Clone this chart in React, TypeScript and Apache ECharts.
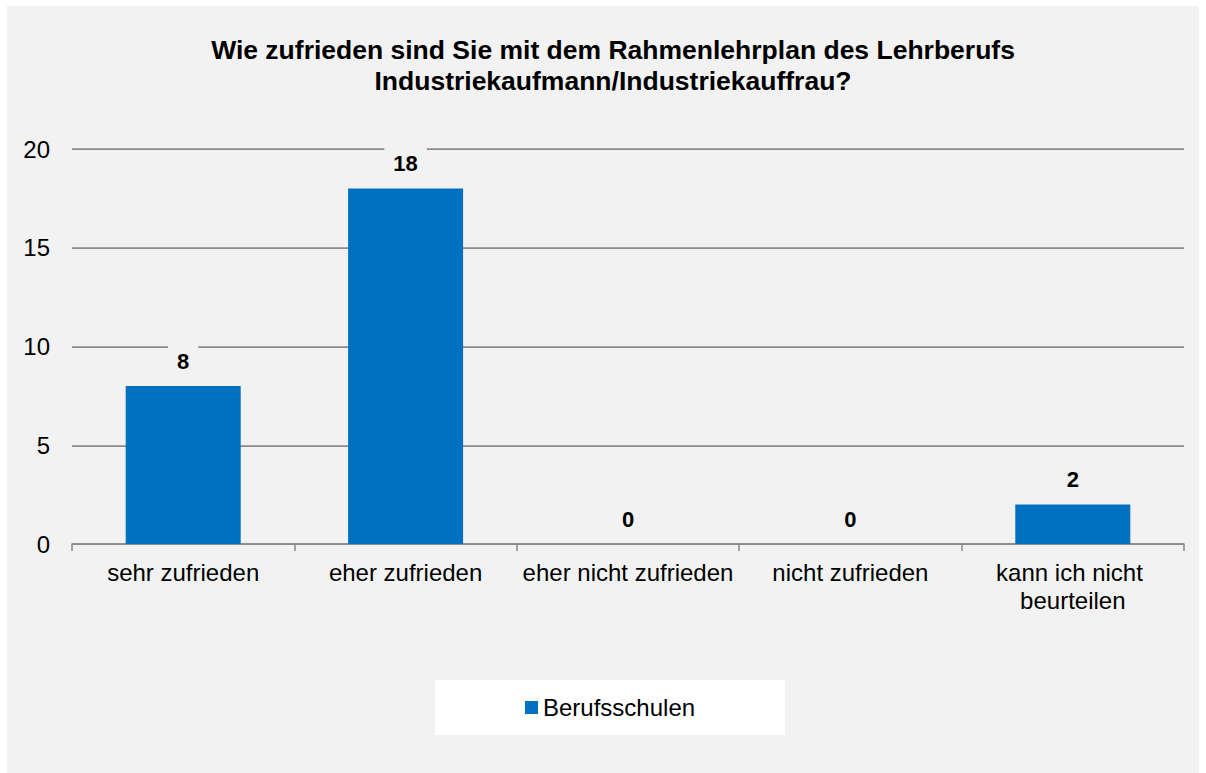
import React, { useEffect, useRef } from "react";
import * as echarts from "echarts";

const titleLines = [
  "Wie zufrieden sind Sie mit dem Rahmenlehrplan des Lehrberufs",
  "Industriekaufmann/Industriekauffrau?",
];
const categories = [
  "sehr zufrieden",
  "eher zufrieden",
  "eher nicht zufrieden",
  "nicht zufrieden",
  "kann ich nicht beurteilen",
];
const seriesName = "Berufsschulen";
const values = [8, 18, 0, 0, 2];
const yMin = 0;
const yMax = 20;
const yInterval = 5;

const FONT = "'Liberation Sans', Arial, Helvetica, sans-serif";
const GRID_COLOR = "#8a8a8a";
const BG = "#f2f2f2";

export default function App() {
  const ref = useRef<HTMLDivElement>(null);

  useEffect(() => {
    if (!ref.current) return;
    const chart = echarts.init(ref.current, null, { renderer: "svg" });
    chart.setOption({
      animation: false,
      backgroundColor: "#ffffff",
      textStyle: { fontFamily: FONT },
      graphic: [
        {
          type: "rect",
          z: -100,
          silent: true,
          shape: { x: 7, y: 6, width: 1192, height: 767 },
          style: { fill: BG },
        },
      ],
      title: {
        text: titleLines.join("\n"),
        left: 613,
        top: 34,
        padding: 0,
        textAlign: "center",
        textStyle: {
          fontFamily: FONT,
          fontSize: 26.5,
          fontWeight: "bold",
          color: "#000000",
          lineHeight: 31,
        },
      },
      legend: {
        data: [seriesName],
        left: 435,
        top: 680,
        padding: [15, 90],
        backgroundColor: "#ffffff",
        icon: "rect",
        itemWidth: 13,
        itemHeight: 13,
        textStyle: {
          fontFamily: FONT,
          fontSize: 24,
          color: "#000000",
          lineHeight: 25,
        },
      },
      grid: {
        left: 72,
        right: 22,
        top: 149,
        bottom: 229,
        containLabel: false,
      },
      xAxis: {
        type: "category",
        data: categories,
        axisLine: { show: true, lineStyle: { color: GRID_COLOR, width: 1.5 } },
        axisTick: { show: true, length: 7, lineStyle: { color: GRID_COLOR, width: 1.5 } },
        axisLabel: {
          interval: 0,
          margin: 14,
          fontFamily: FONT,
          fontSize: 24,
          lineHeight: 28,
          color: "#000000",
          width: 222,
          overflow: "break",
        },
      },
      yAxis: {
        type: "value",
        min: yMin,
        max: yMax,
        interval: yInterval,
        axisLine: { show: false },
        axisTick: { show: false },
        splitLine: { show: true, lineStyle: { color: GRID_COLOR, width: 1.75 } },
        axisLabel: {
          margin: 22,
          fontFamily: FONT,
          fontSize: 24,
          color: "#000000",
        },
      },
      series: [
        {
          name: seriesName,
          type: "bar",
          data: values,
          barWidth: 115,
          itemStyle: { color: "#0070c0" },
          label: {
            show: true,
            position: "top",
            distance: 8,
            fontFamily: FONT,
            fontSize: 22,
            fontWeight: "bold",
            color: "#000000",
            backgroundColor: BG,
            padding: [6, 9],
            lineHeight: 22,
          },
        },
      ],
    });
    return () => {
      chart.dispose();
    };
  }, []);

  return (
    <div
      ref={ref}
      style={{ position: "fixed", left: 0, top: 0, width: 1206, height: 773 }}
    />
  );
}
